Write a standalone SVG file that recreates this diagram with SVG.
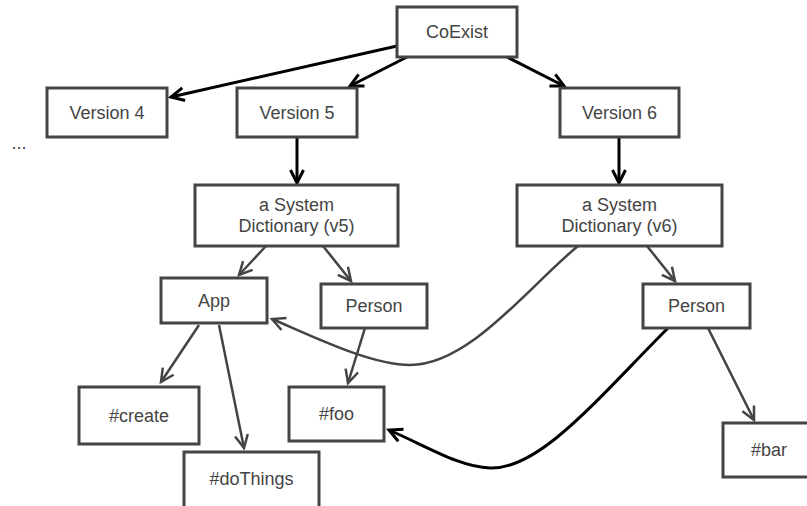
<svg xmlns="http://www.w3.org/2000/svg" width="807" height="506" viewBox="0 0 807 506">
  <style>
    .box { fill: #ffffff; stroke: #444444; stroke-width: 3; }
    .lbl { font-family: "Liberation Sans", Arial, sans-serif; font-size: 18px; fill: #444444; text-anchor: middle; }
    .edge-dark { fill: none; stroke: #000000; stroke-width: 3; marker-end: url(#arrow-dark); }
    .edge-grey { fill: none; stroke: #444444; stroke-width: 2.5; marker-end: url(#arrow-grey); }
  </style>
  <defs>
    <marker id="arrow-dark" markerUnits="userSpaceOnUse" markerWidth="20" markerHeight="20" refX="0" refY="0" viewBox="-16 -10 20 20" orient="auto" overflow="visible">
      <path d="M-13,-6.5 L0,0 L-13,6.5" fill="none" stroke="#000000" stroke-width="3" stroke-linejoin="miter"/>
    </marker>
    <marker id="arrow-grey" markerUnits="userSpaceOnUse" markerWidth="20" markerHeight="20" refX="0" refY="0" viewBox="-16 -10 20 20" orient="auto" overflow="visible">
      <path d="M-13,-6.5 L0,0 L-13,6.5" fill="none" stroke="#444444" stroke-width="2.5" stroke-linejoin="miter"/>
    </marker>
  </defs>

  <rect width="807" height="506" fill="#ffffff"/>

  <!-- connectors -->
  <g id="connectors">
    <line class="edge-dark" x1="397" y1="46" x2="171" y2="97"/>
    <line class="edge-dark" x1="407" y1="57" x2="350" y2="86"/>
    <line class="edge-dark" x1="507" y1="57" x2="564" y2="86"/>
    <line class="edge-dark" x1="297" y1="137" x2="297" y2="183"/>
    <line class="edge-dark" x1="619" y1="137" x2="619" y2="183"/>
    <line class="edge-grey" x1="266" y1="246" x2="239" y2="275"/>
    <line class="edge-grey" x1="323" y1="246" x2="351" y2="281"/>
    <line class="edge-grey" x1="647" y1="246" x2="675" y2="281"/>
    <line class="edge-grey" x1="199" y1="325" x2="161" y2="382"/>
    <line class="edge-grey" x1="219" y1="325" x2="244" y2="448"/>
    <line class="edge-grey" x1="365" y1="328" x2="348" y2="383"/>
    <line class="edge-grey" x1="708" y1="328" x2="754" y2="420"/>
    <path class="edge-grey" d="M578,246 C530,285 470,365 410,365 C370,365 310,335 272,319"/>
    <path class="edge-dark" d="M668,328 C600,396 540,470 490,468 C460,467 430,448 389,430"/>
  </g>

  <!-- nodes -->
  <g id="coexist">
    <rect class="box" x="397" y="7" width="120" height="50"/>
    <text class="lbl" x="457" y="38">CoExist</text>
  </g>
  <g id="version4">
    <rect class="box" x="47" y="88" width="120" height="49"/>
    <text class="lbl" x="107" y="118.5">Version 4</text>
  </g>
  <g id="version5">
    <rect class="box" x="237" y="88" width="120" height="49"/>
    <text class="lbl" x="297" y="118.5">Version 5</text>
  </g>
  <g id="version6">
    <rect class="box" x="560" y="88" width="119" height="49"/>
    <text class="lbl" x="619.5" y="118.5">Version 6</text>
  </g>
  <g id="ellipsis">
    <text class="lbl" x="19" y="149">...</text>
  </g>
  <g id="sysdict-v5">
    <rect class="box" x="195" y="185" width="203" height="61"/>
    <text class="lbl" x="296.5" y="211">a System</text>
    <text class="lbl" x="296.5" y="232">Dictionary (v5)</text>
  </g>
  <g id="sysdict-v6">
    <rect class="box" x="517" y="185" width="205" height="61"/>
    <text class="lbl" x="619.5" y="211">a System</text>
    <text class="lbl" x="619.5" y="232">Dictionary (v6)</text>
  </g>
  <g id="app">
    <rect class="box" x="161" y="278" width="106" height="45"/>
    <text class="lbl" x="214" y="306.5">App</text>
  </g>
  <g id="person-v5">
    <rect class="box" x="321" y="284" width="106" height="44"/>
    <text class="lbl" x="374" y="312">Person</text>
  </g>
  <g id="person-v6">
    <rect class="box" x="643" y="284" width="107" height="44"/>
    <text class="lbl" x="696.5" y="312">Person</text>
  </g>
  <g id="create">
    <rect class="box" x="79" y="387" width="120" height="57"/>
    <text class="lbl" x="139" y="421.5">#create</text>
  </g>
  <g id="foo">
    <rect class="box" x="289" y="387" width="95" height="54"/>
    <text class="lbl" x="336.5" y="420">#foo</text>
  </g>
  <g id="dothings">
    <rect class="box" x="184" y="452" width="135" height="70"/>
    <text class="lbl" x="251.5" y="485">#doThings</text>
  </g>
  <g id="bar">
    <rect class="box" x="723" y="423" width="92" height="54"/>
    <text class="lbl" x="769" y="456">#bar</text>
  </g>
</svg>
